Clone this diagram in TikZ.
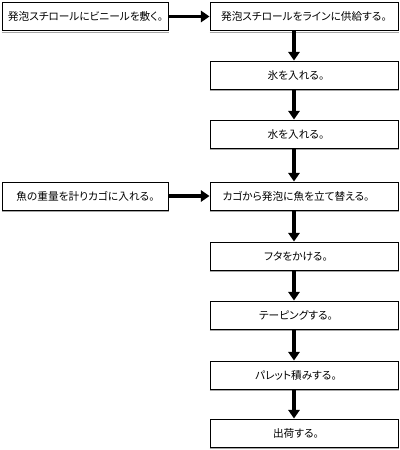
\documentclass[tikz,border=0pt]{standalone}
\usepackage{fontspec}
\setmainfont{Noto Sans CJK JP}[RawFeature=+palt]
\usetikzlibrary{arrows.meta}
\begin{document}
\begin{tikzpicture}[x=0.75pt,y=-0.75pt,
  box/.style={draw=black, line width=0.75pt, fill=white, minimum height=21pt,
    inner sep=0pt, font=\fontsize{8pt}{9pt}\selectfont},
  rbox/.style={box, minimum width=141pt},
  rboxs/.style={rbox, execute at begin node=\hspace*{-12pt}},
  lbox/.style={box, minimum width=125pt},
  shade/.style={draw=black!35, line width=0.75pt},
  flow/.style={line width=2.6pt, -{Triangle[width=8.5pt,length=6.5pt]}}]
\useasboundingbox (0,0) rectangle (400,450);
\node[lbox] (l1) at (85.5,16.5) {発泡スチロールにビニールを敷く。};
\node[rbox] (r1) at (304,16.5) {発泡スチロールをラインに供給する。};
\node[rboxs] (r2) at (304,75) {氷を入れる。};
\node[rboxs] (r3) at (304,134) {水を入れる。};
\node[lbox] (l2) at (85.5,196) {魚の重量を計りカゴに入れる。};
\node[rboxs] (r4) at (304,196) {カゴから発泡に魚を立て替える。};
\node[rboxs] (r5) at (304,256) {フタをかける。};
\node[rboxs] (r6) at (304,315) {テーピングする。};
\node[rboxs] (r7) at (304,375) {パレット積みする。};
\node[rboxs] (r8) at (304,433) {出荷する。};
\foreach \n in {l1,l2,r1,r2,r3,r4,r5,r6,r7,r8}
  \draw[shade] ([yshift=-0.75pt]\n.south west) -- ([yshift=-0.75pt]\n.south east);
\draw[flow] (l1.east) -- (r1.west);
\draw[flow] (l2.east) -- (r2.west |- l2.east);
\foreach \a/\b in {r1/r2,r2/r3,r3/r4,r4/r5,r5/r6,r6/r7,r7/r8}
  \draw[flow] ([xshift=-7.5pt]\a.south) -- ([xshift=-7.5pt]\b.north);
\end{tikzpicture}
\end{document}
